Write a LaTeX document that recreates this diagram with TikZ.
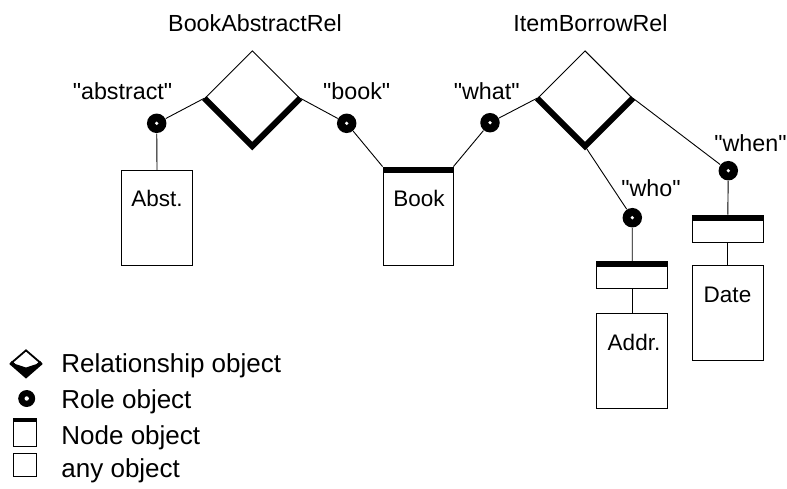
\documentclass[tikz,border=0pt]{standalone}
\usepackage{fontspec}
\setmainfont{Liberation Sans}
\newfontfamily\plainsans{Liberation Sans}
\usetikzlibrary{shapes.geometric}
\begin{document}
\begin{tikzpicture}[x=1pt,y=-1pt, line width=0.9pt,
  rel/.style={diamond, draw, inner sep=0pt, aspect=1, minimum width=95pt, minimum height=95pt},
  relthick/.style={line width=6pt, line join=miter},
  role/.style={circle, fill=black, inner sep=0pt, minimum size=19.5pt,
    path picture={\fill[white] (path picture bounding box.center) circle (1.8pt);}},
  obj/.style={draw, rectangle, inner sep=0pt, minimum width=71pt, minimum height=95pt},
  nodeobj/.style={draw, rectangle, inner sep=0pt, minimum width=71pt, minimum height=27pt},
  bar/.style={line width=6pt},
  lbl/.style={anchor=base, inner sep=0pt, font=\plainsans\fontsize{23.3pt}{26pt}\selectfont},
  boxtxt/.style={anchor=base, inner sep=0pt, font=\fontsize{22.5pt}{25pt}\selectfont},
  legtxt/.style={anchor=base west, inner sep=0pt, font=\fontsize{26pt}{29pt}\selectfont}]
\useasboundingbox (0,0) rectangle (787,488);

% relationship objects
\node[rel] (d1) at (252.3,98.2) {};
\node[rel] (d2) at (585,98.2) {};
\draw[relthick] (d1.west) -- (d1.south) -- (d1.east);
\draw[relthick] (d2.west) -- (d2.south) -- (d2.east);

% role objects
\node[role] (ra) at (156.7,123.3) {};
\node[role] (rb) at (346.7,123.3) {};
\node[role] (rw) at (490,122.7) {};
\node[role] (rwho) at (632.3,217.7) {};
\node[role] (rwhen) at (728.3,170.7) {};

% objects
\node[obj, minimum height=94.5pt] (abst) at (157,217.75) {};
\node[obj, minimum width=70pt, minimum height=98pt] (book) at (418,216) {};
\node[nodeobj] (who) at (632.2,275.2) {};
\node[obj] (addr) at (632.2,361) {};
\node[nodeobj] (when) at (727.8,228.5) {};
\node[obj] (date) at (727.8,313) {};

% connectors
\draw (d1.west) -- (ra);
\draw (ra) -- (abst.north);
\draw (d1.east) -- (rb);
\draw (rb) -- (book.north west);
\draw (d2.west) -- (rw);
\draw (rw) -- (book.north east);
\draw (d2.south) -- (rwho);
\draw (rwho) -- (who.north);
\draw (who.south) -- (addr.north);
\draw (d2.east) -- (rwhen);
\draw (rwhen) -- (when.north);
\draw (when.south) -- (date.north);

% node-object bars
\draw[bar] ([yshift=-3pt]book.north west) -- ([yshift=-3pt]book.north east);
\draw[bar] ([yshift=-3pt]who.north west) -- ([yshift=-3pt]who.north east);
\draw[bar] ([yshift=-3pt]when.north west) -- ([yshift=-3pt]when.north east);

% texts
\node[lbl] (t1) at (255,31) {BookAbstractRel};
\node[lbl] (t2) at (590.5,31) {ItemBorrowRel};
\node[lbl] (t3) at (122.5,99) {"abstract"};
\node[lbl] (t4) at (356.7,99) {"book"};
\node[lbl] (t5) at (486.7,99) {"what"};
\node[lbl] (t6) at (651,196.7) {"who"};
\node[lbl] (t7) at (750.5,151.7) {"when"};
\node[boxtxt] (b1) at (157,206.7) {Abst.};
\node[boxtxt] (b2) at (419,206.7) {Book};
\node[boxtxt] (b3) at (634,350) {Addr.};
\node[boxtxt] (b4) at (727.5,302.7) {Date};

% legend
\node[diamond, draw, inner sep=0pt, minimum width=29pt, minimum height=25pt, line width=1.8pt] (lg1) at (26,362.5) {};
\fill (lg1.west) -- (lg1.south) -- (lg1.east) -- ([yshift=-5pt]lg1.center) -- cycle;
\draw[line width=4pt, line join=miter] (lg1.west) -- (lg1.south) -- (lg1.east);
\node[circle, fill=black, inner sep=0pt, minimum size=17pt,
  path picture={\fill[white] (path picture bounding box.center) circle (2.2pt);}] (lg2) at (26.7,398.5) {};
\node[draw, rectangle, inner sep=0pt, minimum width=23.4pt, minimum height=28pt] (lg3) at (25,432) {};
\draw[line width=4pt] ([yshift=-2pt]lg3.north west) -- ([yshift=-2pt]lg3.north east);
\node[draw, rectangle, inner sep=0pt, minimum width=23.4pt, minimum height=23pt] (lg4) at (25,464.5) {};
\node[legtxt] (l1) at (61,372) {Relationship object};
\node[legtxt] (l2) at (61,408) {Role object};
\node[legtxt] (l3) at (61,444) {Node object};
\node[legtxt] (l4) at (61,477) {any object};
\end{tikzpicture}
\end{document}
